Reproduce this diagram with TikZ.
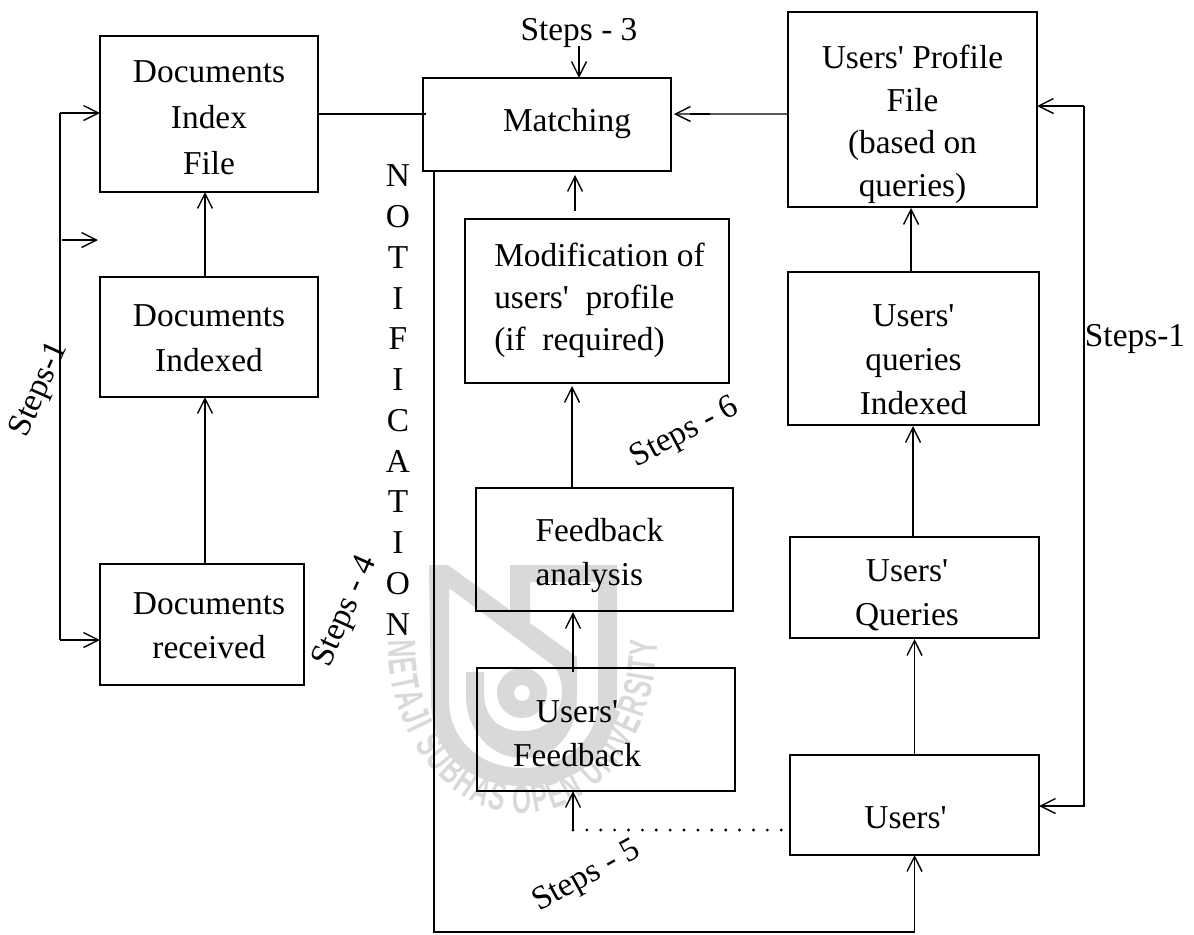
\documentclass[tikz,border=0pt]{standalone}
\usepackage{fontspec}
\setmainfont{Liberation Serif}[Ligatures=TeXOff]
\newfontfamily\wmfont[FakeStretch=0.62]{Liberation Sans Bold}
\usepackage{tikz}
\usetikzlibrary{arrows.meta,calc,decorations.text}
\definecolor{wmgrey}{gray}{0.85}
\newlength{\px}
\setlength{\px}{0.02cm}
% lines of a box, moved down by #2 px, no effect on the size of the box
\newcommand{\blk}[3][c]{\raisebox{-#2\px}[0pt][0pt]{\begin{tabular}{@{}#1@{}}#3\end{tabular}}}
\tikzset{
  box/.style 2 args={draw=black, line width=0.8pt, outer sep=0pt,
    minimum width=#1*0.02cm, minimum height=#2*0.02cm,
    font=\fontsize{19}{25}\selectfont},
  lines/.style={font=\fontsize{19}{#1}\selectfont},
  txt/.style={font=\fontsize{19}{25}\selectfont},
  con/.style={black, line width=0.8pt},
  >={Straight Barb[length=8.5pt,width=8.5pt]}
}
\begin{document}
\begin{tikzpicture}[x=0.02cm,y=-0.02cm]
    \useasboundingbox (0,0) rectangle (1194,934);

    % Logo
    \fill[wmgrey, even odd rule] (429,565) -- (448,565) -- (510,610) -- (510,565) -- (617,565) -- (617,700)
      .. controls (617,755) and (575,786) .. (523,786) .. controls (470,786) and (431,755) .. (431,700) -- cycle
      (449,588) -- (555,667) .. controls (570,690) and (562,731) .. (522,731)
      .. controls (497,731) and (484,715) .. (484,693) -- (484,672) -- (466,672) -- (466,695)
      .. controls (466,730) and (490,758) .. (522,758) .. controls (555,758) and (577,735) .. (577,695)
      -- (577,657) -- (530,623) -- (530,582) -- (598,582) -- (598,700)
      .. controls (598,740) and (565,768) .. (523,768) .. controls (480,768) and (449,740) .. (449,700) -- cycle
      (522,693) circle [radius=25] (522,693) circle [radius=8];
    \path[decorate, decoration={text along path, text align=fit to path,
        text={|\wmfont\fontsize{22.5}{22.5}\selectfont\color{wmgrey}|NETAJI SUBHAS OPEN UNIVERSITY}}]
      (388,640) .. controls (388,740) and (450,813) .. (522,813) .. controls (595,813) and (657,740) .. (657,640);

    % Boxes
    \node[box={218}{156}, lines=26] (docidx) at (209,114) {\blk{13}{Documents\\Index\\File}};
    \node[box={218}{120}, lines=25.5] (docind) at (209,337) {\blk{11}{Documents\\Indexed}};
    \node[box={204}{121}] (recv) at (202,624.5) {\hspace*{0.28cm}\blk{11}{Documents\\received}};
    \node[box={248}{93}] (match) at (547,124.5) {\hspace*{0.8cm}\blk{6}{Matching}};
    \node[box={264}{164}, lines=23.8] (modif) at (597,301) {\hspace*{0.1cm}\blk[l]{6.5}{Modification of\\users'\ \ profile\\(if\ \ required)}};
    \node[box={257}{123}] (fanal) at (604.5,549.5) {\blk[l]{12.4}{Feedback\\analysis}\hspace*{0.2cm}};
    \node[box={258}{123}] (ufeed) at (606,729.5) {\blk{14}{Users'\\Feedback}\hspace*{1.16cm}};
    \node[box={249}{195}, lines=24.4] (uprof) at (912.5,109.5) {\blk{22}{Users' Profile\\File\\(based on\\queries)}};
    \node[box={251}{153}] (uind) at (913.5,348.5) {\blk{21}{Users'\\queries\\Indexed}};
    \node[box={249}{101}] (uq) at (914.5,587.5) {\blk{15}{Users'\\Queries}\hspace*{0.3cm}};
    \node[box={249}{100}] (usr) at (914.5,805) {\blk{22}{Users'}\hspace*{0.36cm}};

    % Left side
    \coordinate (lt) at (60,113);
    \coordinate (lb) at (60,640);
    \coordinate (lm) at (62,240);
    \coordinate (lmt) at (98,240);
    \draw[con] (lt) -- (lb);
    \draw[con,->] (lt) -- (lt -| docidx.west);
    \draw[con,->] (lm) -- (lmt);
    \draw[con,->] (lb) -- (lb -| recv.west);
    \draw[con,->] ($(recv.north)+(3,0)$) -- ($(docind.south)+(-4,0)$);
    \draw[con,->] ($(docind.north)+(-4,0)$) -- ($(docidx.south)+(-4,0)$);
    \draw[con] (docidx.east) -- ($(match.west)+(3,-10.5)$);

    % Middle
    \coordinate (st) at (579,46);
    \draw[con,->] (st) -- (st |- match.north);
    \draw[con,->] ($(modif.north)+(-22,-8)$) -- ($(match.south)+(28,4)$);
    \draw[con,->] ($(fanal.north)+(-32.5,0)$) -- ($(modif.south)+(-25,3)$);
    \draw[con,->] ($(ufeed.north)+(-33,4)$) -- ($(fanal.south)+(-31.5,1)$);

    % Right side
    \draw[con,->] ($(uprof.west)+(0,4.5)$) -- ($(match.east)+(3,-10.5)$);
    \draw[line width=1.4pt] ($(match.east)+(19,-10.5)$) -- ($(match.east)+(39,-10.5)$);
    \draw[con,->] ($(uind.north)+(-2.5,0)$) -- ($(uprof.south)+(-1.5,1)$);
    \draw[con,->] ($(uq.north)+(-1.5,0)$) -- ($(uind.south)+(-0.5,1)$);
    \draw[con,->] (usr.north) -- ($(uq.south)+(0,1)$);

    \coordinate (rt) at (1084,106);
    \coordinate (rb) at (1084,806);
    \draw[con,->] (rt) -- (rt -| uprof.east);
    \draw[con,->] (rt) -- (rb) -- (rb -| usr.east);

    % Notification line
    \coordinate (nt) at (434,170);
    \coordinate (nb) at (434,932);
    \draw[con,->] (nt) -- (nb) -- (nb -| usr.south) -- (usr.south);

    % Dotted
    \coordinate (df) at (573,830);
    \draw[con,->] (df) -- (df |- ufeed.south);
    \draw[black, line width=1.8pt, line cap=round, dash pattern=on 0pt off 7.9pt] (df) -- (df -| usr.west);

    % Labels
    \node[txt] (s3) at (579,33) {Steps - 3};
    \node[txt, rotate=66] (s1) at (40,390) {Steps-1};
    \node[txt, rotate=66] (s4) at (346,612) {Steps - 4};
    \node[txt, rotate=29] (s5) at (587,877) {Steps - 5};
    \node[txt, rotate=28] (s6) at (685,433) {Steps - 6};
    \node[txt] (s1r) at (1135,339) {Steps-1};
    \node[font=\fontsize{19}{23.2}\selectfont, align=center] (notif) at (398,400) {N\\O\\T\\I\\F\\I\\C\\A\\T\\I\\O\\N};
\end{tikzpicture}
\end{document}
